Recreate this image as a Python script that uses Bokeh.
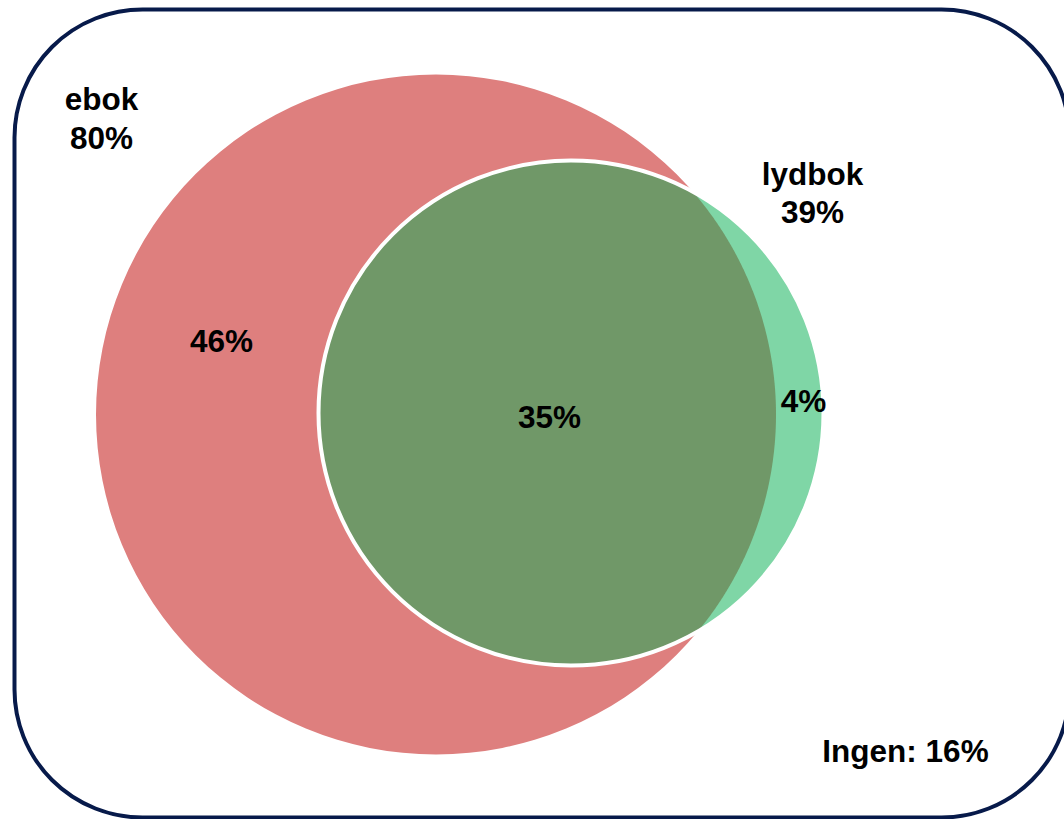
import numpy as np
from bokeh.plotting import figure
from bokeh.models import Range1d, BoxAnnotation, ColumnDataSource
from bokeh.core.properties import value
from bokeh.embed import file_html
from bokeh.resources import INLINE

# ---- data ----
set_names = ["ebok", "lydbok"]
set_totals = [80, 39]
region_names = ["kun ebok", "begge", "kun lydbok"]
region_values = [46, 35, 4]
none_label = "Ingen"
none_value = 16

# ---- layout (picture pixel coordinates) ----
red_c, red_r = (435.5, 414.0), 340.0
grn_c, grn_r = (570.5, 412.5), 252.5
RED, GREEN, OVERLAP, NAVY = "#DE7F7E", "#7FD6A6", "#709868", "#071A4A"
FONT = value("Liberation Sans")
FS = "31.5px"
DY = -12  # baseline correction for svg text

W, H = 1064, 819
p = figure(width=W, height=H, x_range=Range1d(0, W), y_range=Range1d(H, 0),
           min_border=0, toolbar_location=None, output_backend="svg")
p.axis.visible = False
p.grid.visible = False
p.outline_line_color = None
p.background_fill_color = "white"
p.border_fill_color = "white"

# circles
p.circle(x=[red_c[0]], y=[red_c[1]], radius=red_r, fill_color=RED, line_color=None)
p.circle(x=[grn_c[0]], y=[grn_c[1]], radius=grn_r, fill_color=GREEN, line_color=None)

# lens (intersection) computed from circle geometry
dx, dy = grn_c[0] - red_c[0], grn_c[1] - red_c[1]
d = np.hypot(dx, dy)
a = (red_r**2 - grn_r**2 + d**2) / (2 * d)
h = np.sqrt(red_r**2 - a**2)
ux, uy = dx / d, dy / d
mx, my = red_c[0] + a * ux, red_c[1] + a * uy
P1 = (mx - h * uy, my + h * ux)
P2 = (mx + h * uy, my - h * ux)

def arc(c, r, p_from, p_to, through):
    t0 = np.arctan2(p_from[1] - c[1], p_from[0] - c[0])
    t1 = np.arctan2(p_to[1] - c[1], p_to[0] - c[0])
    tm = np.arctan2(through[1] - c[1], through[0] - c[0])
    def norm(t):
        return t % (2 * np.pi)
    span_ccw = norm(t1 - t0)
    if norm(tm - t0) <= span_ccw:
        ts = t0 + np.linspace(0, span_ccw, 300)
    else:
        ts = t0 - np.linspace(0, 2 * np.pi - span_ccw, 300)
    return c[0] + r * np.cos(ts), c[1] + r * np.sin(ts)

xa, ya = arc(red_c, red_r, P1, P2, (red_c[0] + red_r * ux, red_c[1] + red_r * uy))
xb, yb = arc(grn_c, grn_r, P2, P1, (grn_c[0] - grn_r * ux, grn_c[1] - grn_r * uy))
p.patch(x=np.concatenate([xa, xb]), y=np.concatenate([ya, yb]),
        fill_color=OVERLAP, line_color=None)

# white outline of lydbok circle
p.circle(x=[grn_c[0]], y=[grn_c[1]], radius=grn_r, fill_color=None,
         line_color="white", line_width=4)

# labels
set_src = ColumnDataSource(dict(
    x=[101, 812], y_name=[110 + DY, 185 + DY], y_val=[149 + DY, 223 + DY],
    name=set_names, val=[f"{v}%" for v in set_totals]))
for col in ("y_name", "y_val"):
    p.text(x="x", y=col, text="name" if col == "y_name" else "val", source=set_src,
           text_font=FONT, text_font_size=FS, text_font_style="bold",
           text_align="center", text_baseline="alphabetic", text_color="black")

reg_src = ColumnDataSource(dict(
    x=[221, 549, 803], y=[352.5 + DY, 428 + DY, 412.5 + DY],
    text=[f"{v}%" for v in region_values]))
p.text(x="x", y="y", text="text", source=reg_src, text_font=FONT,
       text_font_size=FS, text_font_style="bold", text_align="center",
       text_baseline="alphabetic", text_color="black")

p.text(x=[905], y=[762 + DY], text=[f"{none_label}: {none_value}%"], text_font=FONT,
       text_font_size=FS, text_font_style="bold", text_align="center",
       text_baseline="alphabetic", text_color="black")

# rounded frame
p.add_layout(BoxAnnotation(left=14, right=1069, top=9, bottom=817,
                           fill_alpha=0, line_color=NAVY, line_alpha=1.0,
                           line_width=4, border_radius=128))

open("out.html", "w").write(file_html(p, INLINE))
